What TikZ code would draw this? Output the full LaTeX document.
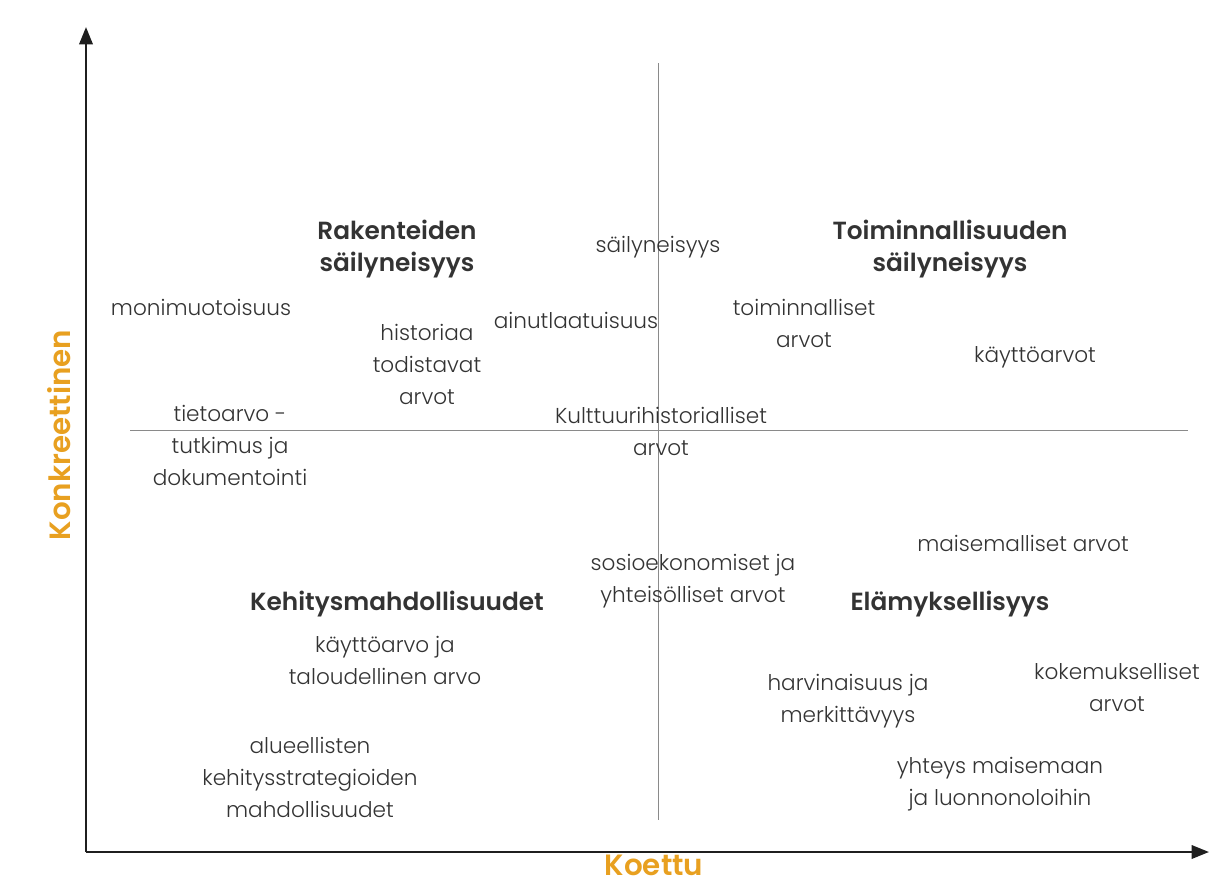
\documentclass[tikz,border=0pt]{standalone}
\usepackage{fontspec}
\setmainfont{Poppins Light}[BoldFont={Poppins SemiBold}]
\usetikzlibrary{arrows.meta}
\definecolor{txt}{HTML}{333333}
\definecolor{orng}{HTML}{E8A020}
\definecolor{gridc}{HTML}{8A8A8A}
\tikzset{
  lbl/.style={align=center, text=txt, font=\fontsize{16.2}{24}\selectfont, inner sep=0pt},
  head/.style={align=center, text=txt, font=\fontsize{18.6}{24}\bfseries\selectfont, inner sep=0pt},
  axislbl/.style={text=orng, font=\fontsize{22}{24}\bfseries\selectfont, inner sep=0pt},
  axis/.style={line width=1.8pt, draw=black!88, -{Triangle[length=13pt,width=10pt]}},
  guide/.style={line width=0.6pt, draw=gridc}
}
\begin{document}
\begin{tikzpicture}[x=0.75pt,y=-0.75pt]
\useasboundingbox (0,0) rectangle (1209,885);
% axes
\coordinate (o) at (86,852);
\coordinate (ytip) at (86,27);
\coordinate (xtip) at (1209,852);
\draw[axis] (o) -- (ytip);
\draw[axis] (o) -- (xtip);
% guide lines
\coordinate (vtop) at (658,63);
\coordinate (vbot) at (658,820);
\coordinate (hl) at (130,430);
\coordinate (hr) at (1188,430);
\draw[guide] (vtop) -- (vbot);
\draw[guide] (hl) -- (hr);
% axis labels
\node[axislbl, rotate=90, anchor=base] (konk) at (70,435) {Konkreettinen};
\node[axislbl, anchor=base] (koettu) at (654,875) {Koettu};
% headings
\node[head] (rak) at (397,249) {Rakenteiden\\säilyneisyys};
\node[head] (toim) at (950,249) {Toiminnallisuuden\\säilyneisyys};
\node[head] (keh) at (397,604) {Kehitysmahdollisuudet};
\node[head] (elam) at (950,604) {Elämyksellisyys};
% labels
\node[lbl] (sail) at (658,247) {säilyneisyys};
\node[lbl] (moni) at (201,307) {monimuotoisuus};
\node[lbl] (hist) at (427,364) {historiaa\\todistavat\\arvot};
\node[lbl] (ainu) at (576,320) {ainutlaatuisuus};
\node[lbl] (toimarv) at (804,323) {toiminnalliset\\arvot};
\node[lbl] (kayt) at (1035,357) {käyttöarvot};
\node[lbl] (tieto) at (230,445) {tietoarvo -\\tutkimus ja\\dokumentointi};
\node[lbl] (kult) at (661,431) {Kulttuurihistorialliset\\arvot};
\node[lbl] (mais) at (1023,543) {maisemalliset arvot};
\node[lbl] (sosio) at (693,581) {sosioekonomiset ja\\yhteisölliset arvot};
\node[lbl] (kaytto) at (385,660) {käyttöarvo ja\\taloudellinen arvo};
\node[lbl] (harv) at (848,701) {harvinaisuus ja\\merkittävyys};
\node[lbl] (koke) at (1117,687) {kokemukselliset\\arvot};
\node[lbl] (alue) at (310,777) {alueellisten\\kehitysstrategioiden\\mahdollisuudet};
\node[lbl] (yht) at (1000,784) {yhteys maisemaan\\ja luonnonoloihin};
\end{tikzpicture}
\end{document}
